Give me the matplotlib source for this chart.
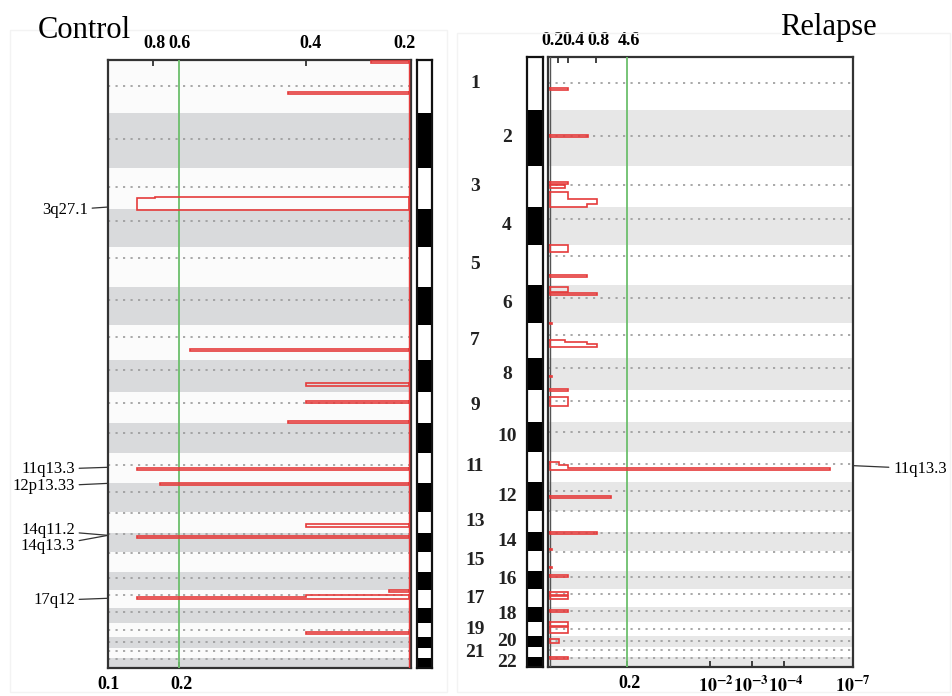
import numpy as np
import matplotlib
matplotlib.use("Agg")
import matplotlib.pyplot as plt
from matplotlib.patches import Rectangle
from matplotlib.transforms import blended_transform_factory

plt.rcParams["font.family"] = ["Liberation Serif", "DejaVu Serif"]
plt.rcParams["mathtext.fontset"] = "stix"

chrom_names = [str(i) for i in range(1, 23)]
chrom_len = [251, 261, 194, 180, 189, 180, 166, 152, 147, 142, 142,
             137, 99, 90, 95, 85, 85, 71, 66, 52, 47, 47]
centromere = [123, 123, 90, 57, 52, 62, 57, 47, 52, 47, 57,
              43, 2, 5, 5, 28, 24, 19, 33, 24, 14, 5]

# Control: сегменты (начало/конец, Мб по всему геному) и значение
ctrl_start = [5, 152, 647, 654, 1369, 1530, 1615, 1710, 1933, 2004,
              2198, 2255, 2510, 2534, 2544, 2709]
ctrl_end = [14, 161, 654, 708, 1378, 1544, 1625, 1719, 1942, 2013,
            2212, 2264, 2520, 2544, 2553, 2719]
ctrl_score = [0.126, 0.404, 0.844, 0.904, 0.728, 0.344, 0.344, 0.404, 0.904, 0.828,
              0.344, 0.904, 0.066, 0.344, 0.904, 0.344]

# Relapse
rel_start = [147, 369, 592, 606, 639, 670, 692, 886, 1028, 1085, 1113, 1256,
             1336, 1345, 1352, 1506, 1568, 1606, 1909, 1923, 1937, 2070, 2241,
             2322, 2406, 2444, 2525, 2544, 2610, 2667, 2690, 2747, 2833]
rel_end = [156, 379, 601, 616, 670, 692, 706, 919, 1037, 1108, 1123, 1260,
           1345, 1352, 1369, 1510, 1577, 1648, 1923, 1937, 1947, 2080, 2250,
           2326, 2410, 2454, 2539, 2558, 2620, 2686, 2719, 2766, 2842]
rel_score = [0.059, 0.125, 0.059, 0.050, 0.059, 0.154, 0.121, 0.059, 0.121, 0.059, 0.154, 0.008,
             0.049, 0.121, 0.154, 0.008, 0.059, 0.059, 0.030, 0.059, 0.925, 0.203, 0.154,
             0.008, 0.008, 0.059, 0.059, 0.059, 0.059, 0.059, 0.059, 0.030, 0.059]

ctrl_labels = ["3q27.1", "11q13.3", "12p13.33", "14q11.2", "14q13.3", "17q12"]
ctrl_label_pos = [696, 1928, 2004, 2250, 2250, 2548]
rel_labels = ["11q13.3"]
rel_label_pos = [1928]

# подписи шкал
ctrl_top_ticks = [0.846, 0.762, 0.328, 0.017]
ctrl_top_labels = ["0.8", "0.6", "0.4", "0.2"]
ctrl_top_marks = [0.851, 0.341]
ctrl_bottom_ticks = [1.0, 0.755]
ctrl_bottom_labels = ["0.1", "0.2"]
ctrl_bottom_marks = [0.765]
rel_top_ticks = [0.010, 0.079, 0.161, 0.262]
rel_top_labels = ["0.2", "0.4", "0.8", "4.6"]
rel_top_marks = [0.026, 0.059, 0.151]
rel_bottom_ticks = [0.262, 0.548, 0.662, 0.780, 1.0]
rel_bottom_labels = ["0.2", r"$\mathbf{10^{-2}}$", r"$\mathbf{10^{-3}}$",
                     r"$\mathbf{10^{-4}}$", r"$\mathbf{10^{-7}}$"]
rel_bottom_marks = [0.256, 0.528, 0.666, 0.774]
ctrl_cutoff = 0.765
rel_cutoff = 0.256

RED = "#e53b3b"
GREEN = "#6cbf6c"

W, H = 953, 696
fig = plt.figure(figsize=(W / 100, H / 100), dpi=100)


def box(x0, y0, x1, y1):
    return [x0 / W, 1 - y1 / H, (x1 - x0) / W, (y1 - y0) / H]


starts = np.concatenate([[0], np.cumsum(chrom_len)[:-1]])
total = sum(chrom_len)


def setup_panel(ax, band_color, white_color):
    ax.set_ylim(total, 0)
    for i, (s, l) in enumerate(zip(starts, chrom_len)):
        ax.axhspan(s, s + l, color=band_color if i % 2 else white_color, lw=0, zorder=0)
        ax.axhline(s + centromere[i], color="#9a9a9a", lw=1.2, ls=(0, (1.3, 3.2)), zorder=1)
    for sp in ax.spines.values():
        sp.set_color("#333333")
        sp.set_linewidth(1.6)
    ax.set_yticks([])


def draw_segments(ax, seg_start, seg_end, seg_score):
    # соседние сегменты объединяем в один ступенчатый контур
    i, n = 0, len(seg_start)
    while i < n:
        j = i
        while j + 1 < n and seg_start[j + 1] == seg_end[j]:
            j += 1
        xs, ys = [0], [seg_start[i]]
        for k in range(i, j + 1):
            xs += [seg_score[k], seg_score[k]]
            ys += [seg_start[k], seg_end[k]]
        xs += [0, 0]
        ys += [seg_end[j], seg_start[i]]
        ax.plot(xs, ys, color=RED, lw=1.2, zorder=4, solid_joinstyle="miter")
        i = j + 1


def set_ticks(ax, top_pos, top_lab, top_marks, bot_pos, bot_lab, bot_marks):
    ax.xaxis.tick_top()
    ax.set_xticks(top_pos, top_lab)
    ax.set_xticks(top_marks, minor=True)
    ax.tick_params(axis="x", which="major", length=0, pad=6, labelsize=13)
    ax.tick_params(axis="x", which="minor", direction="in", length=4, width=1.2, color="#222222")
    for t in ax.get_xticklabels():
        t.set_fontweight("bold")
    sec = ax.secondary_xaxis("bottom")
    sec.set_xticks(bot_pos, bot_lab)
    sec.set_xticks(bot_marks, minor=True)
    sec.tick_params(which="major", length=0, pad=6, labelsize=13)
    sec.tick_params(which="minor", direction="in", length=4, width=1.2, color="#222222")
    sec.spines["bottom"].set_visible(False)
    for t in sec.get_xticklabels():
        t.set_fontweight("bold")


def chrom_bar(ax):
    colors = ["white" if i % 2 == 0 else "black" for i in range(len(chrom_len))]
    ax.barh(starts, [1] * len(chrom_len), height=chrom_len, left=0,
            align="edge", color=colors, lw=0)
    ax.set_xlim(0, 1)
    ax.set_ylim(total, 0)
    ax.set_xticks([])
    ax.set_yticks([])
    for sp in ax.spines.values():
        sp.set_linewidth(1.6)
        sp.set_color("#111111")


# светлые рамки вокруг панелей
fig.add_artist(Rectangle((10 / W, 1 - 692 / H), 437 / W, 662 / H, transform=fig.transFigure,
                         fill=False, ec="#f3f3f3", lw=1))
fig.add_artist(Rectangle((457 / W, 1 - 692 / H), 493 / W, 659 / H, transform=fig.transFigure,
                         fill=False, ec="#f3f3f3", lw=1))

# Control
ax_l = fig.add_axes(box(108, 60, 411, 668))
setup_panel(ax_l, "#d9dadc", "#fbfbfb")
ax_l.set_xlim(1.0, -0.006)
ax_l.axvline(ctrl_cutoff, color=GREEN, lw=1.3, zorder=3)
ax_l.axvline(0, color=RED, lw=1.0, zorder=4)
draw_segments(ax_l, ctrl_start, ctrl_end, ctrl_score)
set_ticks(ax_l, ctrl_top_ticks, ctrl_top_labels, ctrl_top_marks,
          ctrl_bottom_ticks, ctrl_bottom_labels, ctrl_bottom_marks)

bar_l = fig.add_axes(box(417, 60, 432, 668))
chrom_bar(bar_l)

ctrl_offsets = [(-20, -3), (-33, -2), (-33, -3), (-33, 5), (-33, -11), (-33, -2)]
for lab, pos, off in zip(ctrl_labels, ctrl_label_pos, ctrl_offsets):
    ax_l.annotate(lab, xy=(0, pos), xycoords=("axes fraction", "data"),
                  xytext=off, textcoords="offset pixels", ha="right", va="center",
                  fontsize=12, annotation_clip=False,
                  arrowprops=dict(arrowstyle="-", color="#333333", lw=0.9,
                                  shrinkA=1, shrinkB=0))

# Relapse
bar_r = fig.add_axes(box(527, 57, 543, 667))
chrom_bar(bar_r)

ax_r = fig.add_axes(box(548, 57, 853, 667))
setup_panel(ax_r, "#e7e7e7", "#ffffff")
ax_r.set_xlim(-0.006, 1.0)
ax_r.axvline(rel_cutoff, color=GREEN, lw=1.3, zorder=3)
ax_r.axvline(0, color="#555555", lw=1.0, zorder=4)
draw_segments(ax_r, rel_start, rel_end, rel_score)
set_ticks(ax_r, rel_top_ticks, rel_top_labels, rel_top_marks,
          rel_bottom_ticks, rel_bottom_labels, rel_bottom_marks)

for lab, pos in zip(rel_labels, rel_label_pos):
    ax_r.annotate(lab, xy=(1, pos), xycoords=("axes fraction", "data"),
                  xytext=(40, -3), textcoords="offset pixels", ha="left", va="center",
                  fontsize=12, annotation_clip=False,
                  arrowprops=dict(arrowstyle="-", color="#333333", lw=0.9,
                                  shrinkA=1, shrinkB=0))

# номера хромосом: нечётные левее, чётные правее
tr = blended_transform_factory(fig.transFigure, bar_r.transData)
for i, name in enumerate(chrom_names):
    x = 475 / W if i % 2 == 0 else 507 / W
    bar_r.text(x, starts[i] + chrom_len[i] / 2, name, transform=tr, ha="center",
               va="center", fontsize=14, fontweight="bold", color="#222222")

fig.text(38 / W, 1 - 30 / H, "Control", fontsize=22, va="center", ha="left")
fig.text(780 / W, 1 - 28 / H, "Relapse", fontsize=22, va="center", ha="left")

fig.savefig("out.png", dpi=100)
